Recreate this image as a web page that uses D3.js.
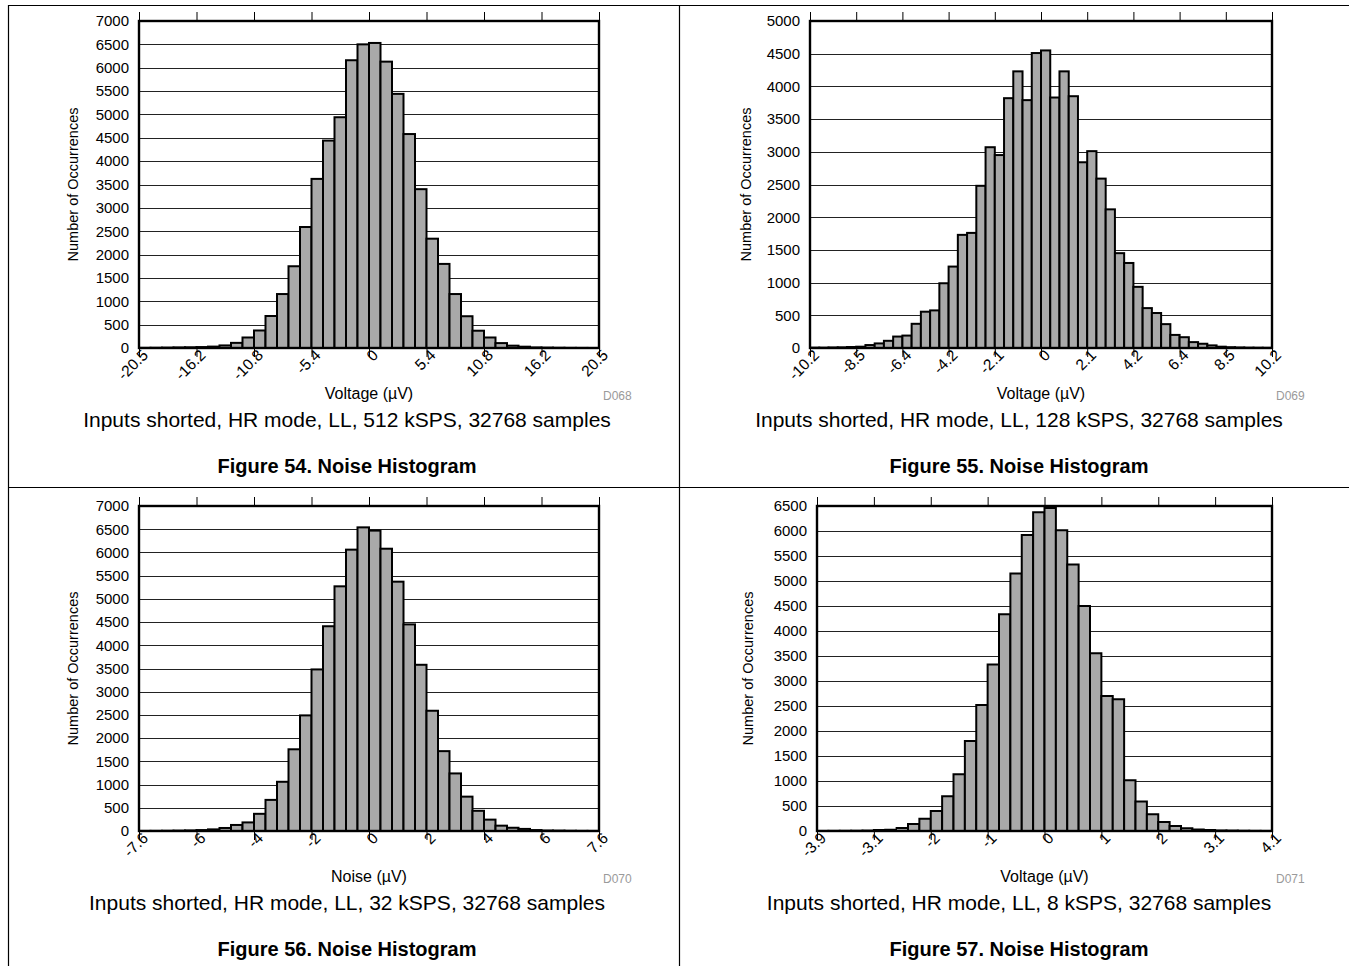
<!DOCTYPE html>
<html>
<head>
<meta charset="utf-8">
<script src="https://cdn.jsdelivr.net/npm/d3@7"></script>
<style>
  html, body { margin: 0; padding: 0; background: #fff; }
  svg { display: block; font-family: "Liberation Sans", Arial, sans-serif; }
</style>
</head>
<body>
<svg id="chart" width="1349" height="966"></svg>
<script>
// ---------- DATA ----------
const fig54Counts = [3, 5, 8, 12, 15, 20, 30, 55, 110, 225, 375, 685, 1155, 1750, 2590, 3620, 4440, 4940, 6160, 6500,
                     6530, 6130, 5440, 4580, 3400, 2340, 1800, 1155, 680, 370, 225, 105, 50, 28, 12, 8, 5, 3, 2, 1];
const fig54TickLabels = ["-20.5", "-16.2", "-10.8", "-5.4", "0", "5.4", "10.8", "16.2", "20.5"];

const fig55Counts = [5, 5, 8, 10, 15, 20, 45, 70, 110, 175, 190, 370, 555, 575, 990, 1245, 1730, 1760, 2480, 3070,
                     2950, 3820, 4230, 3790, 4510, 4550, 3830, 4230, 3850, 2840, 3010, 2590, 2120, 1450, 1300, 935, 610, 535, 365, 200,
                     165, 90, 65, 40, 20, 12, 8, 5, 4, 3];
const fig55TickLabels = ["-10.2", "-8.5", "-6.4", "-4.2", "-2.1", "0", "2.1", "4.2", "6.4", "8.5", "10.2"];

const fig56Counts = [2, 3, 5, 8, 12, 20, 35, 65, 130, 185, 370, 670, 1060, 1760, 2490, 3480, 4410, 5270, 6060, 6540,
                     6470, 6080, 5370, 4450, 3580, 2590, 1720, 1240, 740, 435, 245, 115, 70, 45, 20, 10, 8, 5, 3, 2];
const fig56TickLabels = ["-7.6", "-6", "-4", "-2", "0", "2", "4", "6", "7.6"];

const fig57Counts = [2, 3, 4, 5, 8, 20, 25, 60, 140, 245, 400, 695, 1135, 1800, 2520, 3330, 4335, 5150, 5920, 6375,
                     6460, 6015, 5330, 4500, 3555, 2700, 2635, 1015, 590, 335, 180, 100, 55, 30, 20, 10, 8, 5, 3, 2];
const fig57TickLabels = ["-3.9", "-3.1", "-2", "-1", "0", "1", "2", "3.1", "4.1"];

const yMaxes = [7000, 5000, 7000, 6500];
const xTitles = ["Voltage (\u00B5V)", "Voltage (\u00B5V)", "Noise (\u00B5V)", "Voltage (\u00B5V)"];
const codes = ["D068", "D069", "D070", "D071"];
const captions = [
  "Inputs shorted, HR mode, LL, 512 kSPS, 32768 samples",
  "Inputs shorted, HR mode, LL, 128 kSPS, 32768 samples",
  "Inputs shorted, HR mode, LL, 32 kSPS, 32768 samples",
  "Inputs shorted, HR mode, LL, 8 kSPS, 32768 samples"
];
const figureTitles = [
  "Figure 54. Noise Histogram",
  "Figure 55. Noise Histogram",
  "Figure 56. Noise Histogram",
  "Figure 57. Noise Histogram"
];
const yTitle = "Number of Occurrences";

// ---------- LAYOUT ----------
const svg = d3.select("#chart");

// frame lines
const frame = svg.append("g").attr("stroke", "#000").attr("stroke-width", 1.2);
frame.append("line").attr("x1", 8).attr("x2", 1349).attr("y1", 5.5).attr("y2", 5.5);
frame.append("line").attr("x1", 8.5).attr("x2", 8.5).attr("y1", 5).attr("y2", 966);
frame.append("line").attr("x1", 679.5).attr("x2", 679.5).attr("y1", 5).attr("y2", 966);
frame.append("line").attr("x1", 8).attr("x2", 1349).attr("y1", 487.5).attr("y2", 487.5);

const panels = [
  { counts: fig54Counts, ticks: fig54TickLabels, left: 139, right: 599, top: 21, bottom: 348, cx: 347, yTitleX: 73 },
  { counts: fig55Counts, ticks: fig55TickLabels, left: 810, right: 1272, top: 21, bottom: 348, cx: 1019, yTitleX: 746 },
  { counts: fig56Counts, ticks: fig56TickLabels, left: 139, right: 599, top: 506, bottom: 831, cx: 347, yTitleX: 73 },
  { counts: fig57Counts, ticks: fig57TickLabels, left: 817, right: 1272, top: 506, bottom: 831, cx: 1019, yTitleX: 748 }
];

panels.forEach((p, idx) => {
  const n = p.counts.length;
  const nTicks = p.ticks.length;
  const binsPerTick = n / (nTicks - 1);
  const x = d3.scaleLinear().domain([0, n]).range([p.left, p.right]);
  const y = d3.scaleLinear().domain([0, yMaxes[idx]]).range([p.bottom, p.top]);
  const g = svg.append("g");

  // gridlines
  const yTicks = d3.range(0, yMaxes[idx] + 1, 500);
  g.append("g").selectAll("line").data(yTicks.slice(1, -1)).join("line")
    .attr("x1", p.left).attr("x2", p.right)
    .attr("y1", d => Math.round(y(d)) + 0.5).attr("y2", d => Math.round(y(d)) + 0.5)
    .attr("stroke", "#222").attr("stroke-width", 1);

  // bars
  g.append("g").selectAll("rect").data(p.counts).join("rect")
    .attr("x", (d, i) => x(i))
    .attr("width", (d, i) => x(i + 1) - x(i))
    .attr("y", d => y(d))
    .attr("height", d => p.bottom - y(d))
    .attr("fill", "#a9a9a9")
    .attr("stroke", "#000")
    .attr("stroke-width", 2);

  // plot border
  g.append("rect")
    .attr("x", p.left).attr("y", p.top)
    .attr("width", p.right - p.left).attr("height", p.bottom - p.top)
    .attr("fill", "none").attr("stroke", "#000").attr("stroke-width", 2.4);

  const tickIdx = d3.range(0, nTicks).map(k => k * binsPerTick);

  // top ticks (no labels)
  const topAxis = d3.axisTop(x).tickValues(tickIdx).tickSize(9).tickFormat("");
  const ta = g.append("g").attr("transform", `translate(0,${p.top})`).call(topAxis);
  ta.select(".domain").remove();
  ta.selectAll(".tick line").attr("stroke", "#000").attr("stroke-width", 1);

  // bottom axis
  const botAxis = d3.axisBottom(x).tickValues(tickIdx).tickSize(9)
    .tickFormat((d, k) => p.ticks[k]);
  const ba = g.append("g").attr("transform", `translate(0,${p.bottom})`).call(botAxis);
  ba.select(".domain").remove();
  ba.selectAll(".tick line").attr("stroke", "#000").attr("stroke-width", 1);
  ba.selectAll(".tick text")
    .attr("font-size", 15.5).attr("font-family", "Liberation Sans, Arial, sans-serif")
    .attr("fill", "#000")
    .attr("text-anchor", "end")
    .attr("transform", "rotate(-45)")
    .attr("x", 1).attr("y", 7).attr("dy", "0.35em");

  // left axis labels
  const leftAxis = d3.axisLeft(y).tickValues(yTicks).tickSize(0).tickPadding(10)
    .tickFormat(d3.format("d"));
  const la = g.append("g").attr("transform", `translate(${p.left},0)`).call(leftAxis);
  la.select(".domain").remove();
  la.selectAll(".tick text")
    .attr("font-size", 15).attr("font-family", "Liberation Sans, Arial, sans-serif")
    .attr("fill", "#000");

  // y title
  const midY = (p.top + p.bottom) / 2;
  g.append("text")
    .attr("transform", `translate(${p.yTitleX},${midY}) rotate(-90)`)
    .attr("text-anchor", "middle").attr("dy", "0.35em")
    .attr("font-size", 14.5).text(yTitle);

  // x title
  g.append("text")
    .attr("x", (p.left + p.right) / 2).attr("y", p.bottom + 51)
    .attr("text-anchor", "middle").attr("font-size", 16).text(xTitles[idx]);

  // code
  g.append("text")
    .attr("x", p.right + 4).attr("y", p.bottom + 52)
    .attr("font-size", 12).attr("fill", "#9a9a9a").text(codes[idx]);

  // caption
  g.append("text")
    .attr("x", p.cx).attr("y", p.bottom + 79)
    .attr("text-anchor", "middle").attr("font-size", 21).text(captions[idx]);

  // figure title
  g.append("text")
    .attr("x", p.cx).attr("y", p.bottom + 125)
    .attr("text-anchor", "middle").attr("font-size", 20).attr("font-weight", "bold").text(figureTitles[idx]);
});
</script>
</body>
</html>
